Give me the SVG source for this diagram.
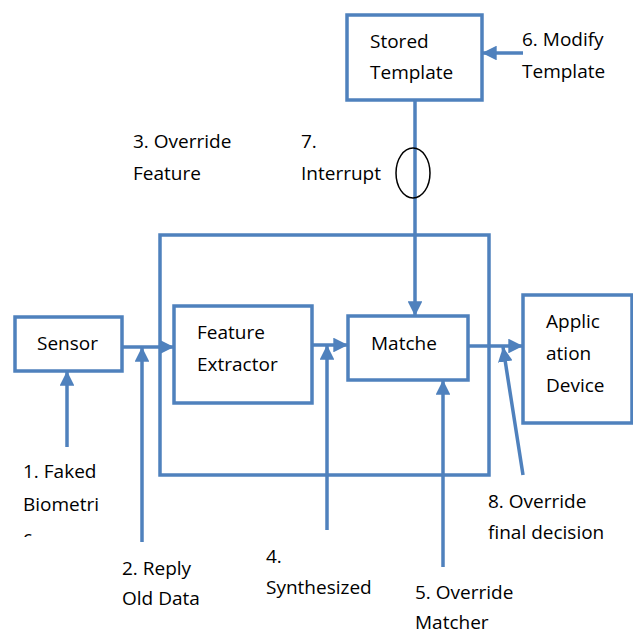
<svg xmlns="http://www.w3.org/2000/svg" width="633" height="632" viewBox="0 0 633 632">
<style>
.box{fill:none;stroke:#4F81BD;stroke-width:3.5}
.ln{fill:none;stroke:#4F81BD;stroke-width:3.5}
text{font-family:"Open Sans","Liberation Sans",sans-serif;font-size:19px;fill:#000}
</style>
<defs>
<marker id="ah" viewBox="0 0 10 10" refX="10" refY="5" markerWidth="4.2" markerHeight="4.2" orient="auto" markerUnits="strokeWidth">
<path d="M0,0 L10,5 L0,10 z" fill="#4F81BD"/>
</marker>
<clipPath id="clipc"><rect x="0" y="0" width="633" height="537"/></clipPath>
</defs>
<rect width="633" height="632" fill="#fff"/>
<g id="outer"><rect class="box" x="160" y="235" width="329" height="240"/></g>
<g id="sensor"><rect class="box" x="15" y="317" width="107" height="54"/><text x="37" y="350">Sensor</text></g>
<g id="feature-extractor"><rect class="box" x="174" y="306" width="138" height="97"/><text x="197" y="339">Feature</text><text x="197" y="371">Extractor</text></g>
<g id="matcher"><rect class="box" x="348" y="316" width="120" height="64"/><text x="371" y="350">Matche</text></g>
<g id="application"><rect class="box" x="523" y="295" width="109" height="128"/><text x="546" y="328">Applic</text><text x="546" y="360">ation</text><text x="546" y="392">Device</text></g>
<g id="stored-template"><rect class="box" x="347" y="15" width="135" height="85"/><text x="370" y="48">Stored</text><text x="370" y="79">Template</text></g>
<g id="connectors">
<line class="ln" x1="122" y1="347" x2="174" y2="347" marker-end="url(#ah)"/>
<line class="ln" x1="312" y1="345" x2="348" y2="345" marker-end="url(#ah)"/>
<line class="ln" x1="468" y1="346" x2="523" y2="346" marker-end="url(#ah)"/>
<line class="ln" x1="415" y1="100" x2="415" y2="316" marker-end="url(#ah)"/>
<line class="ln" x1="523" y1="53" x2="482" y2="53" marker-end="url(#ah)"/>
<line class="ln" x1="67" y1="447" x2="67" y2="371" marker-end="url(#ah)"/>
<line class="ln" x1="142" y1="542" x2="142" y2="347" marker-end="url(#ah)"/>
<line class="ln" x1="327" y1="530" x2="327" y2="345" marker-end="url(#ah)"/>
<line class="ln" x1="443" y1="567" x2="443" y2="380" marker-end="url(#ah)"/>
<line class="ln" x1="523" y1="475" x2="503" y2="347" marker-end="url(#ah)"/>
<ellipse cx="413" cy="173" rx="17" ry="25" fill="none" stroke="#000" stroke-width="1.5"/>
</g>
<g id="labels">
<text x="522" y="46">6. Modify</text><text x="522" y="78">Template</text>
<text x="133" y="148">3. Override</text><text x="133" y="180">Feature</text>
<text x="301" y="148">7.</text><text x="301" y="180">Interrupt</text>
<text x="23" y="478">1. Faked</text><text x="23" y="511">Biometri</text><text x="23" y="544" clip-path="url(#clipc)">c</text>
<text x="122" y="575">2. Reply</text><text x="122" y="605">Old Data</text>
<text x="266" y="563">4.</text><text x="266" y="594">Synthesized</text>
<text x="415" y="599">5. Override</text><text x="415" y="629">Matcher</text>
<text x="488" y="508">8. Override</text><text x="488" y="539">final decision</text>
</g>
</svg>
